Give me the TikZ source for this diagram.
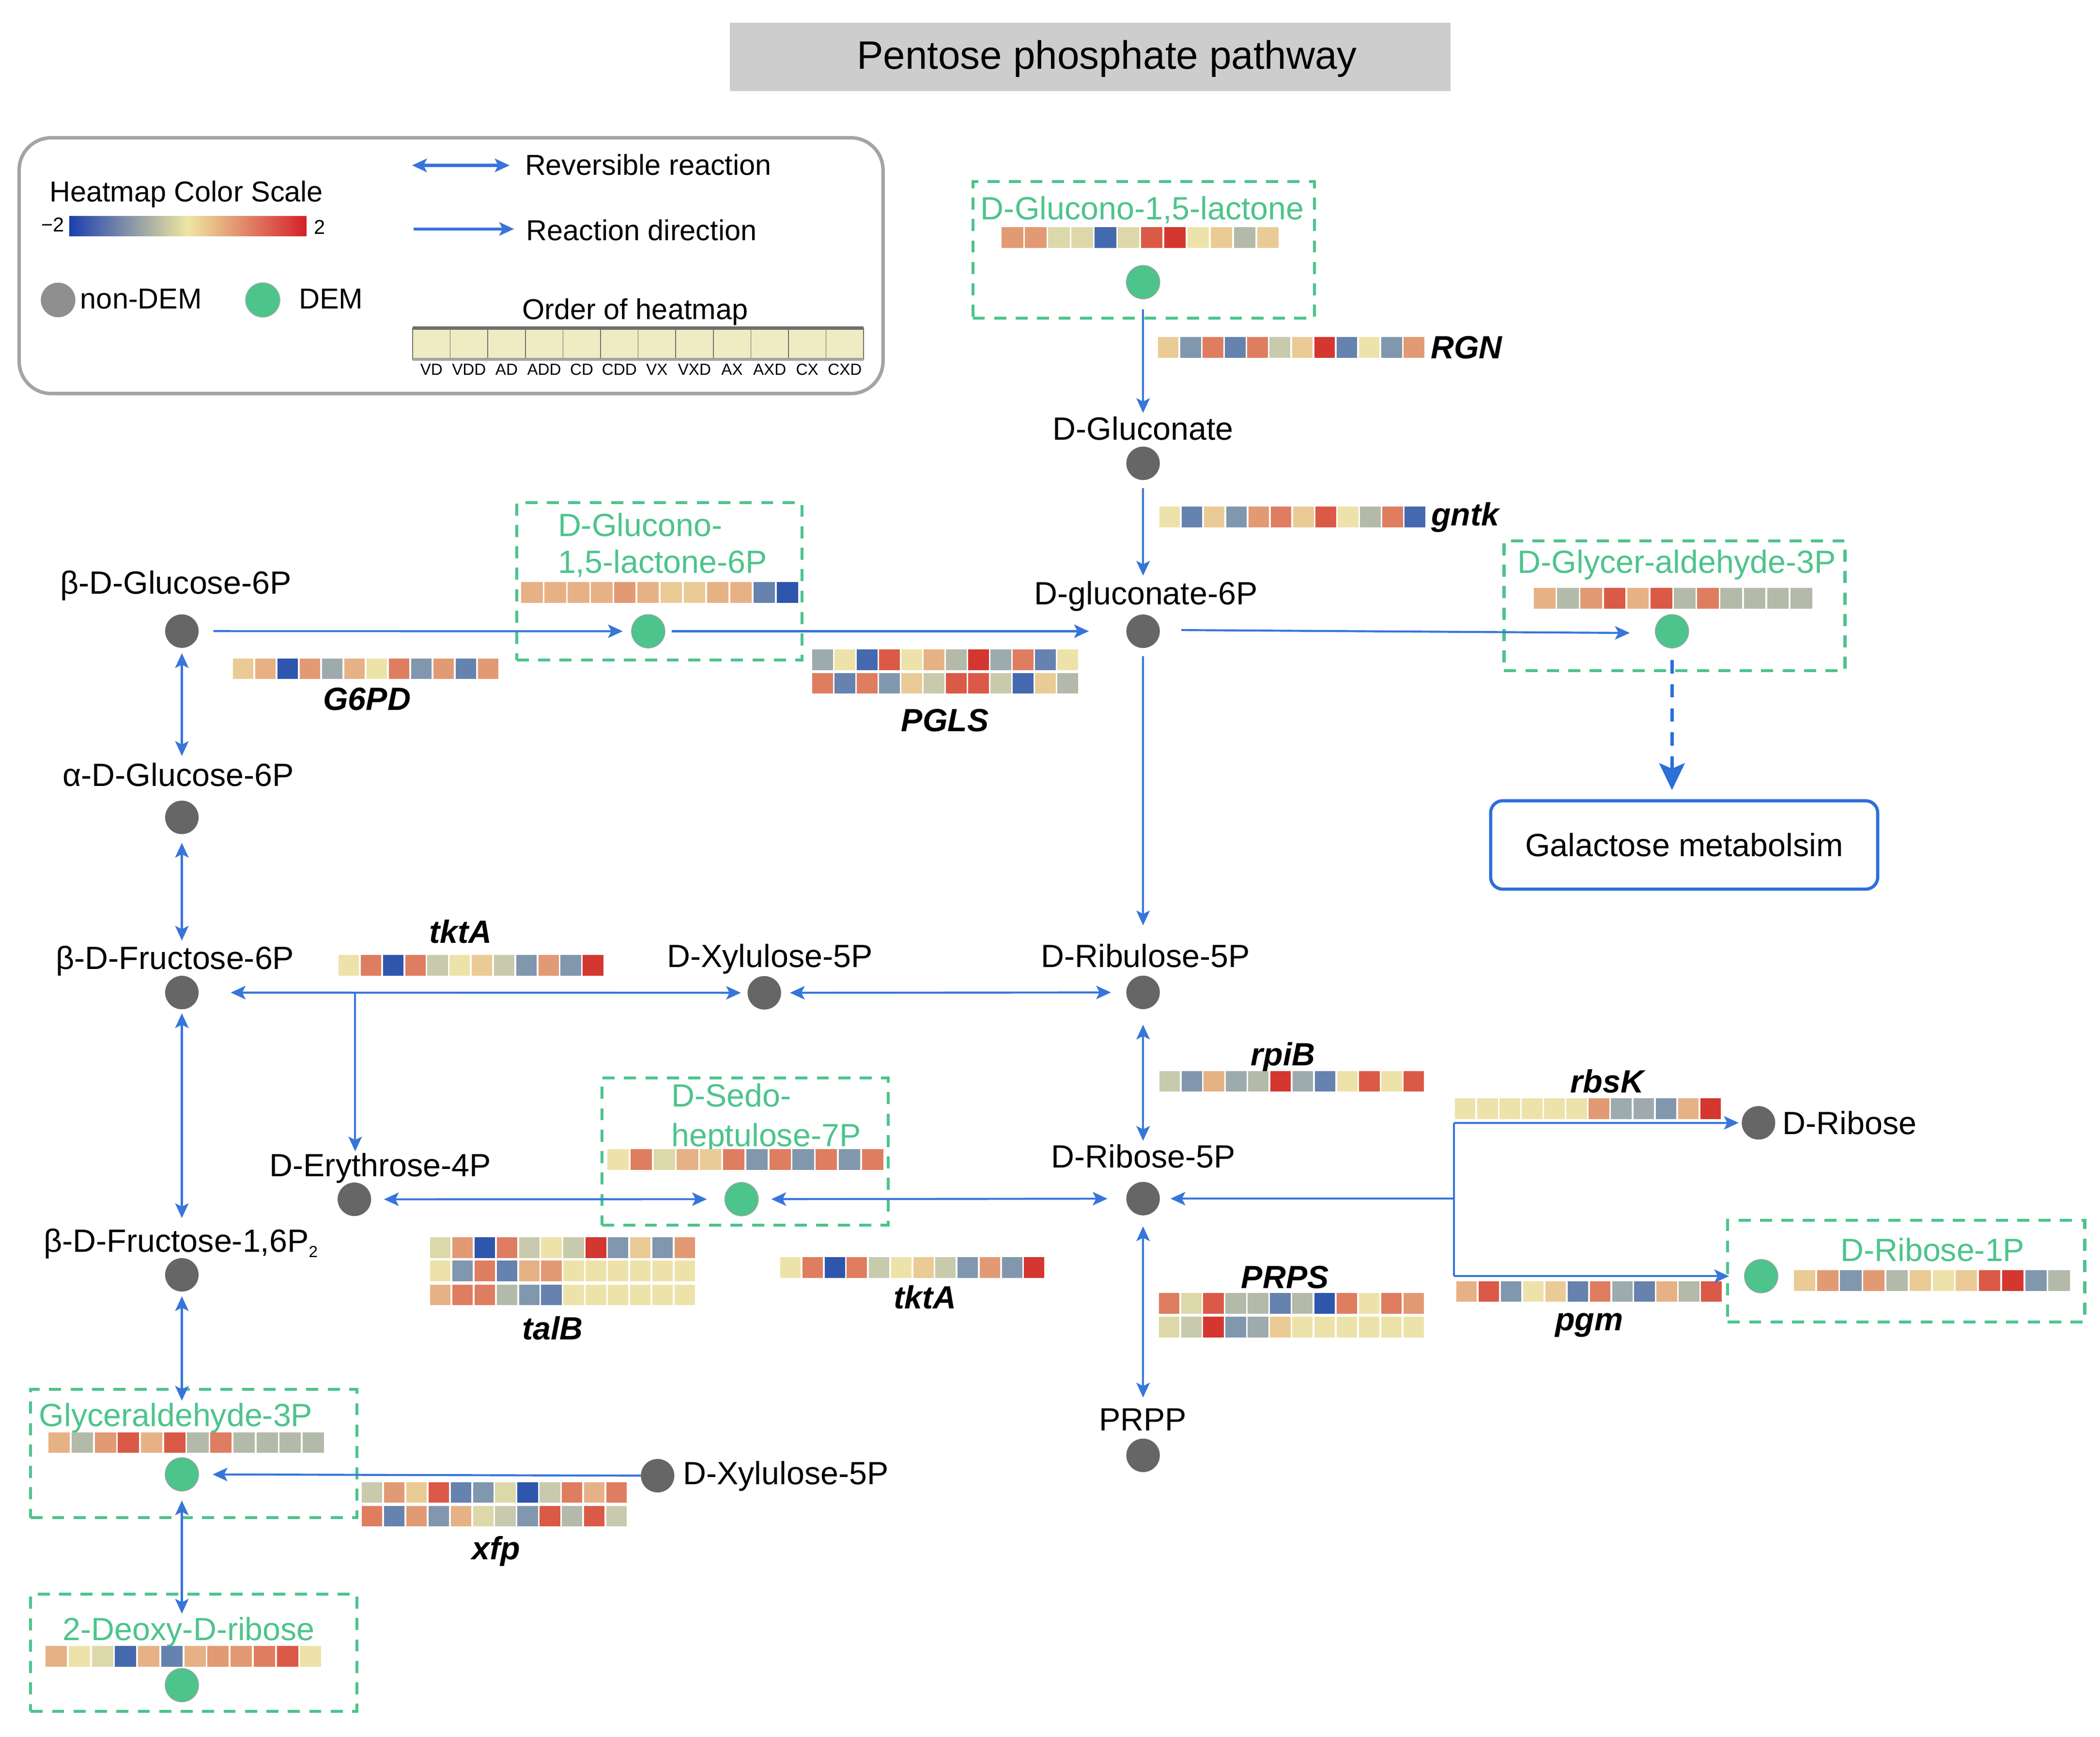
\documentclass[tikz,border=0pt]{standalone}
\usepackage{fontspec}
\setmainfont{Liberation Sans}
\usetikzlibrary{arrows.meta}

\definecolor{R1}{HTML}{D3372F}
\definecolor{R2}{HTML}{DA5A47}
\definecolor{O1}{HTML}{DF7D60}
\definecolor{O2}{HTML}{E29A74}
\definecolor{O3}{HTML}{E7B186}
\definecolor{Y1}{HTML}{EACB96}
\definecolor{Y2}{HTML}{EDE3AA}
\definecolor{Y3}{HTML}{DDD8A9}
\definecolor{G1}{HTML}{C8CAAD}
\definecolor{G2}{HTML}{B3BAAA}
\definecolor{G3}{HTML}{9EABAC}
\definecolor{B1}{HTML}{8197AE}
\definecolor{B2}{HTML}{6682AE}
\definecolor{B3}{HTML}{4569AE}
\definecolor{B4}{HTML}{2E56AD}
\definecolor{metgray}{HTML}{666666}
\definecolor{demgreen}{HTML}{4DC48B}
\definecolor{linkblue}{HTML}{3775DA}
\definecolor{legendgray}{HTML}{A4A4A4}
\definecolor{legcircle}{HTML}{8F8F8F}
\definecolor{titlegray}{HTML}{CDCDCD}
\definecolor{galblue}{HTML}{2C6FD8}
\definecolor{cbblue}{HTML}{1B3FAE}
\definecolor{cbyellow}{HTML}{EEE6A2}
\definecolor{cbred}{HTML}{D4212B}
\definecolor{gridfill}{HTML}{EFEBC3}
\definecolor{gridline}{HTML}{6E6E6E}

\newcommand\pfLab{\fontsize{24}{28}\selectfont}
\newcommand\pfLeg{\fontsize{21.5}{25}\selectfont}
\newcommand\pfTit{\fontsize{29.6}{34}\selectfont}
\newcommand\pfTiny{\fontsize{12}{14}\selectfont}
\newcommand\pfNum{\fontsize{15}{17}\selectfont}

% heatmap row: #1 left x, #2 right x, #3 centre y, #4 colours
\newcommand{\hmap}[4]{%
  \pgfmathsetmacro{\hmpitch}{(#2-#1)/12}%
  \foreach \hc [count=\hk from 0] in {#4} {%
    \fill[\hc] ({#1+\hk*\hmpitch},{#3-7.7}) rectangle ++({\hmpitch-1.3},15.4);
  }%
}

\tikzset{
  tipA/.tip={Stealth[length=11pt,width=10pt,inset=2.5pt]},
  tipB/.tip={Stealth[length=20pt,width=19pt,inset=4pt]},
}

\begin{document}
\begin{tikzpicture}[x=1pt,y=-1pt,
  every node/.style={inner sep=0pt,outer sep=0pt},
  met/.style={circle,fill=metgray,minimum size=25pt},
  dem/.style={circle,fill=demgreen,draw=gray!75,line width=0.5pt,minimum size=25pt},
  lbl/.style={font=\pfLab,text height=17.2pt,text depth=0pt},
  glbl/.style={lbl,text=demgreen},
  gene/.style={font=\pfLab\bfseries\itshape,text height=17.2pt,text depth=0pt},
  leg/.style={font=\pfLeg,text height=15.4pt,text depth=0pt},
  demframe/.style={draw=demgreen,line width=2.2pt,dash pattern=on 9pt off 7pt},
  link/.style={draw=linkblue,line width=1.5pt},
  dir/.style={link,-tipA},
  rev/.style={link,tipA-tipA},
]
\useasboundingbox (0,0) rectangle (1568,1297);

% ---------------- title ----------------
\node[fill=titlegray,minimum width=538pt,minimum height=51pt] (titlebox) at (814,42.5) {};
\node[font=\pfTit,text height=21.2pt,text depth=0pt] (title) at (826.5,41) {Pentose phosphate pathway};

% ---------------- legend ----------------
\node[draw=legendgray,line width=2.6pt,rounded corners=24pt,minimum width=645pt,minimum height=191pt] (legend) at (336.8,198.4) {};
\node[leg] (hcs) at (139.1,142.9) {Heatmap Color Scale};
\node[minimum width=177pt,minimum height=15pt,left color=cbblue,right color=cbred,middle color=cbyellow] (cbar) at (140.2,168.8) {};
\node[font=\pfNum,text height=10.7pt,text depth=0pt] (cbmin) at (39.5,167.8) {−2};
\node[font=\pfNum,text height=10.7pt,text depth=0pt] (cbmax) at (238.8,169.5) {2};
\coordinate (revA) at (307.7,123.5);
\coordinate (revB) at (380.5,123.5);
\draw[rev,line width=2.2pt] (revA) -- (revB);
\node[leg,anchor=west] (revt) at (392,122.9) {Reversible reaction};
\coordinate (dirA) at (309,171);
\coordinate (dirB) at (383.8,171);
\draw[dir,line width=2.2pt] (dirA) -- (dirB);
\node[leg,anchor=west] (dirt) at (393,172) {Reaction direction};
\node[circle,fill=legcircle,minimum size=25.8pt] (lnd) at (43.4,224) {};
\node[leg,anchor=west] (lndt) at (60,223) {non-DEM};
\node[circle,fill=demgreen,draw=gray!60,line width=0.5pt,minimum size=25.8pt] (ld) at (196.2,224) {};
\node[leg,anchor=west] (ldt) at (223.2,223) {DEM};
\node[leg] (ordt) at (474.2,230.8) {Order of heatmap};
\foreach \nm [count=\k from 0] in {VD,VDD,AD,ADD,CD,CDD,VX,VXD,AX,AXD,CX,CXD} {
  \node[draw=gridline,fill=gridfill,line width=0.6pt,minimum width=28.06pt,minimum height=23.3pt] (oc\k) at ({322.13+\k*28.06},256.65) {};
  \node[font=\pfTiny,text height=8.6pt,text depth=0pt] (ol\k) at ({322.13+\k*28.06},275.8) {\nm};
}
\draw[line width=2.2pt,draw=gridline] (oc0.north west) -- (oc11.north east);
\draw[line width=2.2pt,draw=legendgray] (oc0.south west) -- (oc11.south east);

% ---------------- DEM frames ----------------
\node[demframe,minimum width=255pt,minimum height=102pt] (glacbox) at (853.85,186.55) {};
\node[demframe,minimum width=213pt,minimum height=117.5pt] (gl6pbox) at (492.3,434.25) {};
\node[demframe,minimum width=254.6pt,minimum height=97pt] (dglybox) at (1250.3,452.4) {};
\node[demframe,minimum width=213.8pt,minimum height=109.8pt] (s7pbox) at (556.4,859.9) {};
\node[demframe,minimum width=266.6pt,minimum height=75.9pt] (r1pbox) at (1423.3,949.35) {};
\node[demframe,minimum width=243.5pt,minimum height=95.8pt] (gly3pbox) at (144.65,1085.4) {};
\node[demframe,minimum width=243.5pt,minimum height=87.2pt] (deoxybox) at (144.65,1234.2) {};

% ---------------- metabolites ----------------
\node[dem] (glac) at (853.5,210.7) {};
\node[glbl] (glacl) at (853,155.5) {D-Glucono-1,5-lactone};
\node[met] (gcon) at (853.5,346) {};
\node[lbl] (gconl) at (853.5,320) {D-Gluconate};
\node[met] (gc6p) at (853.5,471.4) {};
\node[lbl] (gc6pl) at (855.6,443) {D-gluconate-6P};
\node[dem] (gl6p) at (484,471.4) {};
\node[glbl,anchor=west] (gl6pl1) at (416.6,391.8) {D-Glucono-};
\node[glbl,anchor=west] (gl6pl2) at (416.6,419.5) {1,5-lactone-6P};
\node[dem] (dgly) at (1248.4,471.4) {};
\node[glbl] (dglyl) at (1252,419.5) {D-Glycer-aldehyde-3P};
\node[draw=galblue,line width=2.4pt,rounded corners=9pt,minimum width=289pt,minimum height=66pt,font=\pfLab] (galbox) at (1257.5,631) {Galactose metabolsim};

\node[met] (bg6p) at (135.8,471.3) {};
\node[lbl] (bg6pl) at (131.2,435) {β-D-Glucose-6P};
\node[met] (ag6p) at (135.8,610.4) {};
\node[lbl] (ag6pl) at (133.1,578.6) {α-D-Glucose-6P};
\node[met] (bf6p) at (135.8,741.2) {};
\node[lbl] (bf6pl) at (130.7,715.3) {β-D-Fructose-6P};
\node[met] (bf16) at (135.8,952) {};
\node[lbl] (bf16l) at (135,926.2) {β-D-Fructose-1,6P{\fontsize{12}{12}\selectfont\raisebox{-4pt}{2}}};
\node[dem] (gly3p) at (135.8,1101) {};
\node[glbl] (gly3pl) at (131.3,1056.6) {Glyceraldehyde-3P};
\node[dem] (deoxy) at (135.8,1258.4) {};
\node[glbl] (deoxyl) at (141,1216.4) {2-Deoxy-D-ribose};

\node[met] (xu5p) at (570.7,741.4) {};
\node[lbl] (xu5pl) at (574.8,713.7) {D-Xylulose-5P};
\node[met] (ru5p) at (853.5,741.1) {};
\node[lbl] (ru5pl) at (855.3,713.6) {D-Ribulose-5P};
\node[met] (e4p) at (264.6,895.6) {};
\node[lbl] (e4pl) at (284,870.1) {D-Erythrose-4P};
\node[dem] (s7p) at (553.7,895.5) {};
\node[glbl,anchor=west] (s7pl1) at (501.3,818) {D-Sedo-};
\node[glbl,anchor=west] (s7pl2) at (501.3,847.7) {heptulose-7P};
\node[met] (r5p) at (853.5,895.1) {};
\node[lbl] (r5pl) at (853.7,863.4) {D-Ribose-5P};
\node[met] (prpp) at (853.5,1086.8) {};
\node[lbl] (prppl) at (853.3,1059.7) {PRPP};
\node[met] (xu5p2) at (491,1102) {};
\node[lbl,anchor=west] (xu5p2l) at (510,1100) {D-Xylulose-5P};
\node[met] (rib) at (1313,838.5) {};
\node[lbl,anchor=west] (ribl) at (1331,838.5) {D-Ribose};
\node[dem] (r1p) at (1315,953) {};
\node[glbl] (r1pl) at (1443,933.1) {D-Ribose-1P};

% ---------------- gene labels ----------------
\node[gene] (rgn) at (1095,259.2) {RGN};
\node[gene] (gntk) at (1094,384) {gntk};
\node[gene] (g6pd) at (274,521.7) {G6PD};
\node[gene] (pgls) at (705.6,537.6) {PGLS};
\node[gene] (tkta1) at (344,695.6) {tktA};
\node[gene] (rpib) at (958,787) {rpiB};
\node[gene] (rbsk) at (1200,807.4) {rbsK};
\node[gene] (talb) at (412.5,991.7) {talB};
\node[gene] (tkta2) at (690.8,968.5) {tktA};
\node[gene] (prps) at (959.5,953.6) {PRPS};
\node[gene] (pgm) at (1186.6,984.8) {pgm};
\node[gene] (xfp) at (370.5,1156) {xfp};

% ---------------- heatmaps ----------------
\hmap{748}{956}{177.3}{O2,O2,Y3,Y3,B3,Y3,R2,R1,Y2,Y1,G2,Y1}
\hmap{864.6}{1064.7}{259.5}{Y1,B1,O1,B2,O1,G1,Y1,R1,B2,Y2,B1,O2}
\hmap{865.6}{1065.5}{386}{Y2,B2,Y1,B1,O2,O1,Y1,R2,Y2,G2,O1,B3}
\hmap{1145.3}{1354.3}{446.8}{O3,G2,O2,R2,O3,R2,G2,O1,G2,G2,G2,G2}
\hmap{389.2}{597.3}{442.5}{O3,O3,O3,O3,O2,O3,Y1,Y1,O3,O3,B2,B4}
\hmap{173.9}{373.5}{499.4}{Y1,O3,B4,O2,G3,O3,Y2,O1,B1,O2,B2,O2}
\hmap{606.5}{806.1}{492.8}{G3,Y2,B3,R2,Y2,O3,G2,R1,G3,O1,B2,Y2}
\hmap{606.5}{806.1}{510.3}{O1,B2,O1,B1,Y1,G1,R2,R2,G1,B3,Y1,G2}
\hmap{252.8}{451.7}{720.8}{Y2,O1,B4,O1,G1,Y2,Y1,G1,B1,O2,B1,R1}
\hmap{865.6}{1064.6}{807.5}{G1,B1,O3,G3,G2,R1,G3,B2,Y2,R2,Y2,R2}
\hmap{1086.3}{1286.2}{828}{Y2,Y2,Y2,Y2,Y2,Y2,O2,G3,G3,B1,O3,R1}
\hmap{453.5}{660.9}{866}{Y2,O1,Y3,O3,Y1,O1,B1,O1,B1,O1,B1,O1}
\hmap{321.1}{520.3}{931.8}{Y3,O2,B4,O1,G1,Y2,G1,R1,B1,Y1,B1,O2}
\hmap{321.1}{520.3}{949}{Y2,B1,O1,B2,O3,O2,Y2,Y2,Y2,Y2,Y2,Y2}
\hmap{321.1}{520.3}{967}{O3,O1,O1,G2,B1,B2,Y2,Y2,Y2,Y2,Y2,Y2}
\hmap{582.6}{781.1}{946.6}{Y2,O1,B4,O1,G1,Y2,Y1,G1,B1,O2,B1,R1}
\hmap{865.2}{1064.5}{973.2}{O1,Y3,R2,G2,G2,B2,G2,B4,O1,Y2,O1,O2}
\hmap{865.2}{1064.5}{991}{Y3,G1,R1,B1,G3,Y1,Y2,Y2,Y2,Y2,Y2,Y2}
\hmap{1087.4}{1286.7}{964.4}{O3,R2,B1,Y2,Y1,B2,O1,G3,B2,O3,G2,R2}
\hmap{1339.4}{1546.7}{956.4}{Y1,O2,B1,O2,G2,Y1,Y2,Y1,R2,R1,B1,G2}
\hmap{36.2}{243.3}{1077.3}{O3,G2,O2,R2,O3,R2,G2,O1,G2,G2,G2,G2}
\hmap{270.2}{469.3}{1114.5}{G1,O2,Y1,R2,B2,B1,Y3,B4,G1,O1,O3,O1}
\hmap{270.2}{469.3}{1132.3}{O1,B2,O2,B1,O3,Y3,G1,B1,R2,G2,R2,G1}
\hmap{34}{241.2}{1237}{O3,Y2,Y3,B3,O3,B2,O3,O2,O2,O1,R2,Y2}

% ---------------- connectors ----------------
\draw[dir,shorten <=8pt,shorten >=3pt] (glac.south) -- (glac.south |- gconl.north);
\draw[dir,shorten <=6pt,shorten >=4.5pt] (gcon.south) -- (gcon.south |- gc6pl.north);
\draw[dir,shorten <=11pt,shorten >=6.5pt] (bg6p) -- (gl6p);
\draw[dir,shorten <=5pt,shorten >=28pt] (gl6p) -- (gc6p);
\draw[dir,shorten <=16pt,shorten >=19pt] ([yshift=1pt]gc6p.east) -- ([yshift=-1.4pt]dgly.west);
\draw[draw=galblue,line width=2.6pt,dash pattern=on 10pt off 8pt,-tipB,shorten <=9pt,shorten >=8pt] (dgly.south) -- (dgly.south |- galbox.north);
\draw[dir,shorten <=6pt,shorten >=14pt] (gc6p.south) -- (gc6p.south |- ru5pl.north);
\draw[rev,shorten <=4pt,shorten >=5.5pt] (bg6p.south) -- (bg6p.south |- ag6pl.north);
\draw[rev,shorten <=6.5pt,shorten >=4.3pt] (ag6p.south) -- (ag6p.south |- bf6pl.north);
\draw[rev,shorten <=3pt,shorten >=8pt] (bf6p.south) -- (bf6p.south |- bf16l.north);
\draw[rev,shorten <=3.5pt,shorten >=2pt] (bf16.south) -- (bf16.south |- gly3pl.north);
\draw[rev,shorten <=7pt,shorten >=2.8pt] (gly3p.south) -- (gly3p.south |- deoxyl.north);
\draw[dir,shorten <=0pt,shorten >=10.5pt] (xu5p2) -- (gly3p);
\draw[rev,shorten <=24pt,shorten >=5pt] (bf6p) -- (xu5p);
\coordinate (j1) at (265.2,741.6);
\draw[dir,shorten >=1.7pt] (j1) -- (j1 |- e4pl.north);
\draw[rev,shorten <=6.6pt,shorten >=11.5pt] (xu5p) -- (ru5p);
\draw[rev,shorten <=11.6pt,shorten >=2.9pt] (ru5p.south) -- (ru5p.south |- r5pl.north);
\draw[rev,shorten <=9.6pt,shorten >=13.4pt] (e4p) -- (s7p);
\draw[rev,shorten <=9.7pt,shorten >=14.1pt] (s7p) -- (r5p);
\draw[rev,shorten <=8.2pt,shorten >=7.5pt] (r5p.south) -- (r5p.south |- prppl.north);
\coordinate (j2) at (1085.6,895.1);
\coordinate (j3) at (1085.6,838.5);
\coordinate (j4) at (1085.6,953);
\draw[link] (j3) -- (j4);
\draw[dir,shorten >=8pt] (j2) -- (r5p);
\draw[dir,shorten >=2.3pt] (j3) -- (rib);
\draw[dir,shorten >=11.5pt] (j4) -- (r1p);
\end{tikzpicture}
\end{document}
